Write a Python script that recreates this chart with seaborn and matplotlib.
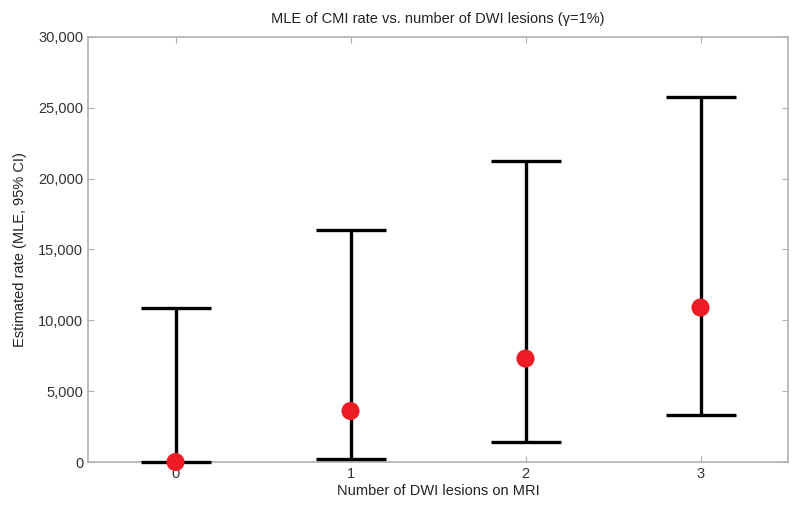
import matplotlib
matplotlib.use("Agg")
import matplotlib.pyplot as plt
import seaborn as sns
import pandas as pd
from matplotlib.ticker import FuncFormatter

# values
lesions = [0, 1, 2, 3]
mle = [0, 3600, 7300, 10900]
ci_low = [0, 200, 1400, 3300]
ci_high = [10900, 16400, 21250, 25750]

df = pd.DataFrame({"lesions": lesions, "mle": mle, "low": ci_low, "high": ci_high})

sns.set_theme(style="white")
plt.rcParams["font.family"] = ["Liberation Sans", "DejaVu Sans"]

fig = plt.figure(figsize=(8, 5.13), dpi=100)
ax = fig.add_axes([0.11, 0.0994, 0.875, 0.8286])

yerr = [df["mle"] - df["low"], df["high"] - df["mle"]]
bars = ax.errorbar(df["lesions"], df["mle"], yerr=yerr, fmt="none", ecolor="black",
                   elinewidth=2.4, capsize=25, capthick=2.4, zorder=3)
for art in bars.lines[1] + bars.lines[2]:
    art.set_clip_on(False)
sns.scatterplot(data=df, x="lesions", y="mle", ax=ax, color="#ee1c24", s=170,
                edgecolor="none", zorder=4, clip_on=False)

ax.set_xlim(-0.5, 3.5)
ax.set_ylim(0, 30000)
ax.set_xticks(lesions)
ax.set_yticks(range(0, 30001, 5000))
ax.yaxis.set_major_formatter(FuncFormatter(lambda v, p: f"{int(v):,}"))

grey = "#b0b0b0"
for s in ax.spines.values():
    s.set_color(grey)
    s.set_linewidth(1.2)
ax.tick_params(direction="in", length=4, width=0.8, color=grey, labelsize=10.5,
               labelcolor="#333333", top=True, right=True, left=True, bottom=True)

ax.set_xlabel("Number of DWI lesions on MRI", fontsize=10.5, color="#222222", labelpad=2)
ax.set_ylabel("Estimated rate (MLE, 95% CI)", fontsize=10.5, color="#222222", labelpad=8)
ax.set_title("MLE of CMI rate vs. number of DWI lesions (\u03b3=1%)", fontsize=10.5,
             color="#222222", pad=10)

fig.savefig("out.png", dpi=100)
